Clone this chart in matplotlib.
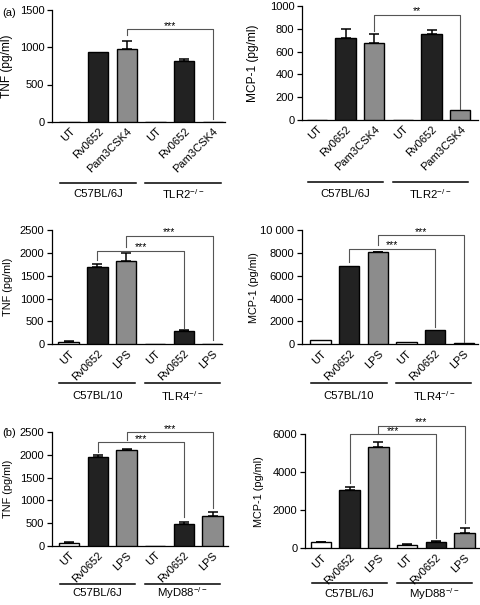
import matplotlib

matplotlib.use("Agg")
import matplotlib.pyplot as plt
import numpy as np

plt.rcParams["font.family"] = ["Liberation Sans", "DejaVu Sans"]
plt.rcParams["mathtext.fontset"] = "custom"
plt.rcParams["mathtext.rm"] = "Liberation Sans"
plt.rcParams["mathtext.it"] = "Liberation Sans:italic"
plt.rcParams["mathtext.bf"] = "Liberation Sans:bold"

# ---- data ----
labels_pam = ["UT", "Rv0652", "Pam3CSK4", "UT", "Rv0652", "Pam3CSK4"]
labels_lps = ["UT", "Rv0652", "LPS", "UT", "Rv0652", "LPS"]

tnf_tlr2 = [0, 930, 975, 0, 818, 0]
tnf_tlr2_err = [0, 0, 105, 0, 22, 0]
mcp_tlr2 = [0, 717, 678, 0, 757, 88]
mcp_tlr2_err = [0, 85, 80, 0, 30, 0]

tnf_tlr4 = [57, 1697, 1829, 8, 291, 5]
tnf_tlr4_err = [22, 66, 160, 0, 15, 0]
mcp_tlr4 = [380, 6850, 8050, 175, 1250, 140]
mcp_tlr4_err = [0, 0, 50, 0, 0, 0]

tnf_myd88 = [72, 1945, 2105, 8, 482, 665]
tnf_myd88_err = [22, 50, 15, 0, 50, 80]
mcp_myd88 = [315, 3070, 5350, 175, 350, 790]
mcp_myd88_err = [35, 140, 250, 35, 10, 295]

ticks_1500 = [0, 500, 1000, 1500]
ticks_1000 = [0, 200, 400, 600, 800, 1000]
ticks_2500 = [0, 500, 1000, 1500, 2000, 2500]
ticks_10000 = [0, 2000, 4000, 6000, 8000, 10000]
ticklabels_10000 = ["0", "2000", "4000", "6000", "8000", "10 000"]
ticks_6000 = [0, 2000, 4000, 6000]

groups_tlr2 = ["C57BL/6J", r"TLR2$^{-/-}$"]
groups_tlr4 = ["C57BL/10", r"TLR4$^{-/-}$"]
groups_myd88 = ["C57BL/6J", r"MyD88$^{-/-}$"]

# (left bar, right bar, bracket height, left foot, right foot, label)
brackets_tnf_tlr2 = [(2, 5, 1240, 1160, 40, "***")]
brackets_mcp_tlr2 = [(2, 5, 924, 783, 94, "**")]
brackets_tnf_tlr4 = [(1, 4, 2044, 1837, 350, "***"), (2, 5, 2378, 2135, 94, "***")]
brackets_mcp_tlr4 = [(1, 4, 8340, 7170, 1490, "***"), (2, 5, 9560, 8690, 230, "***")]
brackets_tnf_myd88 = [(1, 4, 2274, 2068, 643, "***"), (2, 5, 2493, 2325, 827, "***")]
brackets_mcp_myd88 = [(1, 4, 6016, 3420, 526, "***"), (2, 5, 6450, 6050, 1315, "***")]

W, H = 480, 605
BAR_COLORS = ["white", "#222222", "#8c8c8c", "white", "#222222", "#8c8c8c"]


def draw_panel(fig, box, xlim, values, errors, ticks, ylabel, ylabel_px, xlabels,
               groups, group_px, brackets, ticklabels=None, ylabel_size=7.8):
    left, top, right, bottom = box
    ax = fig.add_axes([left / W, 1 - bottom / H, (right - left) / W, (bottom - top) / H])
    x = np.arange(len(values))
    ax.bar(x, values, width=0.71, color=BAR_COLORS, edgecolor="black",
           linewidth=1.0, zorder=3)
    errors = np.asarray(errors)
    has_err = errors > 0
    ax.errorbar(x[has_err], np.asarray(values)[has_err],
                yerr=[np.zeros(has_err.sum()), errors[has_err]], fmt="none",
                ecolor="black", elinewidth=1.1, capsize=3.5, capthick=1.1, zorder=2)

    ax.set_xlim(*xlim)
    ax.set_ylim(0, ticks[-1])
    ax.set_yticks(ticks)
    if ticklabels is not None:
        ax.set_yticklabels(ticklabels)
    ax.set_xticks(x)
    ax.set_xticklabels(xlabels, rotation=45, ha="right", rotation_mode="anchor",
                       fontsize=8)
    ax.tick_params(axis="x", length=0, pad=3)
    ax.tick_params(axis="y", length=3.5, width=0.9, labelsize=8, pad=2)
    for side in ("top", "right"):
        ax.spines[side].set_visible(False)
    for side in ("left", "bottom"):
        ax.spines[side].set_linewidth(0.9)

    # ylabel_px is the right edge of the rotated label, in figure pixels
    ax.set_ylabel(ylabel, fontsize=ylabel_size)
    ax.yaxis.set_label_coords((ylabel_px - left) / (right - left), 0.5)

    for x1, x2, y, foot1, foot2, label in brackets:
        ax.plot([x1, x1, x2, x2], [foot1, y, y, foot2], color="#555555",
                linewidth=0.8, clip_on=False, zorder=4)
        ax.annotate(label, ((x1 + x2) / 2, y), xytext=(0, 0.3),
                    textcoords="offset points", ha="center", va="baseline",
                    fontsize=7.5, annotation_clip=False)

    line_y, text_y = group_px
    height = bottom - top
    ly = -(line_y - bottom) / height
    ty = -(text_y - bottom) / height
    trans = ax.get_xaxis_transform()
    for (x1, x2), name in zip([(-0.32, 2.31), (2.64, 5.27)], groups):
        ax.plot([x1, x2], [ly, ly], color="black", linewidth=1.1,
                transform=trans, clip_on=False)
        ax.text((x1 + x2) / 2, ty, name, transform=trans, ha="center",
                va="center", fontsize=8.2)
    return ax


fig = plt.figure(figsize=(W / 100, H / 100), dpi=100)

draw_panel(fig, (52, 9.5, 225, 122), (-0.61, 5.42), tnf_tlr2, tnf_tlr2_err,
           ticks_1500, "TNF (pg/ml)", 13.5, labels_pam, groups_tlr2, (182.7, 194),
           brackets_tnf_tlr2, ylabel_size=8.6)
draw_panel(fig, (302, 6, 478, 120), (-0.52, 5.62), mcp_tlr2, mcp_tlr2_err,
           ticks_1000, "MCP-1 (pg/ml)", 259, labels_pam, groups_tlr2, (182, 194),
           brackets_mcp_tlr2, ylabel_size=8.6)
draw_panel(fig, (52, 230, 222, 344.3), (-0.58, 5.33), tnf_tlr4, tnf_tlr4_err,
           ticks_2500, "TNF (pg/ml)", 13, labels_lps, groups_tlr4, (383.3, 396),
           brackets_tnf_tlr4)
draw_panel(fig, (302, 230, 478, 344.3), (-0.645, 5.5), mcp_tlr4, mcp_tlr4_err,
           ticks_10000, "MCP-1 (pg/ml)", 259, labels_lps, groups_tlr4, (382.7, 396),
           brackets_mcp_tlr4, ticklabels=ticklabels_10000)
draw_panel(fig, (52, 432, 228, 546), (-0.60, 5.54), tnf_myd88, tnf_myd88_err,
           ticks_2500, "TNF (pg/ml)", 13, labels_lps, groups_myd88, (584, 592.7),
           brackets_tnf_myd88)
draw_panel(fig, (305, 434.3, 479, 548.3), (-0.55, 5.5), mcp_myd88, mcp_myd88_err,
           ticks_6000, "MCP-1 (pg/ml)", 264, labels_lps, groups_myd88, (583.3, 594),
           brackets_mcp_myd88)

fig.text(2 / W, 1 - 12.7 / H, "(a)", va="center", ha="left", fontsize=8)
fig.text(2 / W, 1 - 433 / H, "(b)", va="center", ha="left", fontsize=8)

fig.savefig("out.png", dpi=100)
